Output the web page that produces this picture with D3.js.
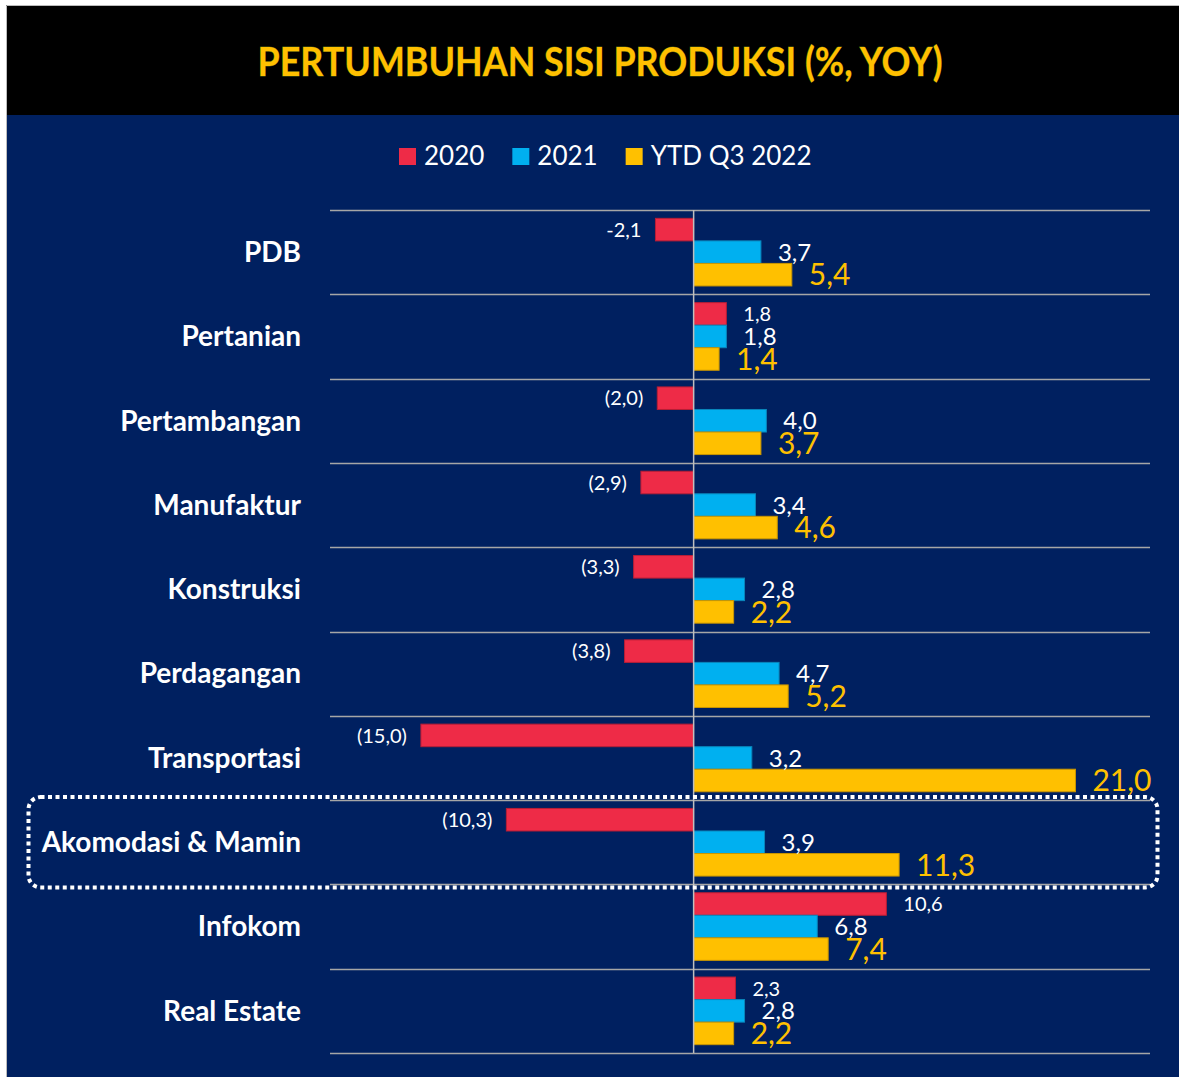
<!DOCTYPE html>
<html>
<head>
<meta charset="utf-8">
<script src="https://cdn.jsdelivr.net/npm/d3@7"></script>
<style>
  body { margin: 0; background: #fff; }
  svg { display: block; }
  text { font-family: Lato, "Open Sans", sans-serif; }
</style>
</head>
<body>
<svg id="chart" width="1179" height="1077"></svg>
<script>
// data
const categories = ["PDB", "Pertanian", "Pertambangan", "Manufaktur", "Konstruksi",
  "Perdagangan", "Transportasi", "Akomodasi & Mamin", "Infokom", "Real Estate"];
const series = ["2020", "2021", "YTD Q3 2022"];
const v2020 = [-2.1, 1.8, -2.0, -2.9, -3.3, -3.8, -15.0, -10.3, 10.6, 2.3];
const v2021 = [3.7, 1.8, 4.0, 3.4, 2.8, 4.7, 3.2, 3.9, 6.8, 2.8];
const v2022 = [5.4, 1.4, 3.7, 4.6, 2.2, 5.2, 21.0, 11.3, 7.4, 2.2];
const label2020 = ["-2,1", "1,8", "(2,0)", "(2,9)", "(3,3)", "(3,8)", "(15,0)", "(10,3)", "10,6", "2,3"];
const highlighted = "Akomodasi & Mamin";

const colors = ["#EE2B47", "#00B0F0", "#FFC000"];
const strokes = ["#b81e36", "#0a86bb", "#c99500"];
const labelColors = ["#ffffff", "#ffffff", "#FFC000"];
const labelSizes = [20, 24, 30];

const svg = d3.select("#chart");

// frame
svg.append("rect").attr("x", 6).attr("y", 5).attr("width", 1173).attr("height", 1072)
  .attr("fill", "#002060");
svg.append("rect").attr("x", 6).attr("y", 5).attr("width", 1173).attr("height", 110)
  .attr("fill", "#000");
svg.append("path").attr("d", "M6.5,1077V5.5H1179").attr("fill", "none")
  .attr("stroke", "#bbb").attr("stroke-width", 1);

svg.append("text")
  .attr("x", 600).attr("y", 76)
  .attr("text-anchor", "middle")
  .attr("font-size", 40).attr("font-weight", 700)
  .attr("fill", "#FFC000")
  .attr("stroke", "#4a5a10").attr("stroke-width", 0.8).attr("paint-order", "stroke")
  .attr("textLength", 685).attr("lengthAdjust", "spacingAndGlyphs")
  .text("PERTUMBUHAN SISI PRODUKSI (%, YOY)");

// legend
const legend = svg.append("g");
let lx = 399;
series.forEach((s, i) => {
  legend.append("rect").attr("x", lx).attr("y", 148).attr("width", 17).attr("height", 17)
    .attr("fill", colors[i]);
  const t = legend.append("text").attr("x", lx + 25).attr("y", 165)
    .attr("font-size", 26).attr("fill", "#fff").text(s);
  lx += 25 + t.node().getComputedTextLength() + 28;
});

// scales
const x = d3.scaleLinear().domain([-20, 25.1]).range([330, 1150]);
const y = d3.scaleBand().domain(categories).range([210, 1053]).padding(0);
const ys = d3.scaleBand().domain(series).range([0, y.bandwidth()])
  .paddingInner(0).paddingOuter(0.37);

// gridlines at band edges
const edges = categories.map(c => y(c)).concat([y.range()[1]]);
svg.append("g").selectAll("line").data(edges).join("line")
  .attr("x1", 330).attr("x2", 1150)
  .attr("y1", d => Math.round(d) + 0.5).attr("y2", d => Math.round(d) + 0.5)
  .attr("stroke", "#a6a6a6").attr("stroke-width", 1.5);

// category labels
svg.append("g").selectAll("text").data(categories).join("text")
  .attr("x", 301).attr("y", d => y(d) + y.bandwidth() / 2)
  .attr("dy", "0.35em").attr("text-anchor", "end")
  .attr("font-size", 28).attr("font-weight", 700).attr("fill", "#fff")
  .text(d => d);

// bars
const values = [v2020, v2021, v2022];
const fmt = v => d3.format(".1f")(v).replace(".", ",");
const rows = [];
categories.forEach((c, ci) => {
  series.forEach((s, si) => {
    const v = values[si][ci];
    rows.push({ c, s, si, v, label: si === 0 ? label2020[ci] : fmt(v) });
  });
});

const bars = svg.append("g");
bars.selectAll("rect").data(rows).join("rect")
  .attr("x", d => x(Math.min(0, d.v)))
  .attr("y", d => y(d.c) + ys(d.s))
  .attr("width", d => Math.abs(x(d.v) - x(0)))
  .attr("height", ys.bandwidth())
  .attr("fill", d => colors[d.si])
  .attr("stroke", d => strokes[d.si]).attr("stroke-width", 1);

// zero line
svg.append("line")
  .attr("x1", x(0)).attr("x2", x(0))
  .attr("y1", y.range()[0]).attr("y2", y.range()[1])
  .attr("stroke", "#bfbfbf").attr("stroke-width", 1.5);

// value labels
svg.append("g").selectAll("text").data(rows).join("text")
  .attr("x", d => d.v < 0 ? x(d.v) - 14 : x(d.v) + 17)
  .attr("y", d => y(d.c) + ys(d.s) + ys.bandwidth() / 2)
  .attr("dy", "0.36em")
  .attr("text-anchor", d => d.v < 0 ? "end" : "start")
  .attr("font-size", d => labelSizes[d.si])
  .attr("fill", d => labelColors[d.si])
  .text(d => d.label);

// highlight box
svg.append("rect")
  .attr("x", 28.5).attr("y", y(highlighted) - 3)
  .attr("width", 1129).attr("height", y.bandwidth() + 6)
  .attr("rx", 12)
  .attr("fill", "none").attr("stroke", "#fff")
  .attr("stroke-width", 4).attr("stroke-dasharray", "4 3.5");
</script>
</body>
</html>
